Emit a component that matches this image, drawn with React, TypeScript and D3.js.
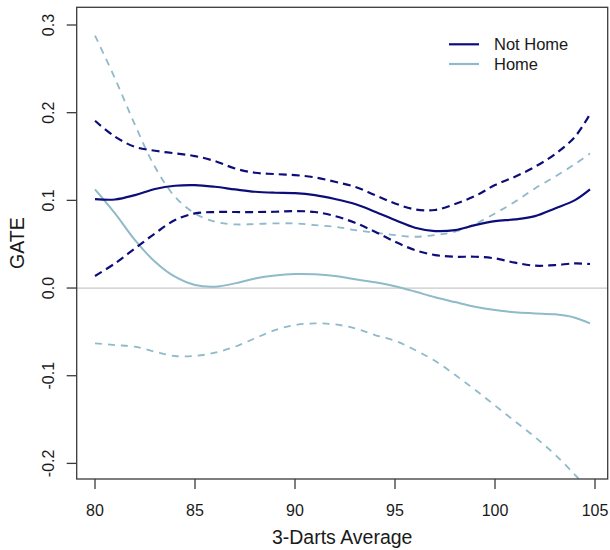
import * as d3 from 'd3';

// x grid of the smoothed GATE curves (3-darts average)
const avg = [80, 81, 82, 83, 84, 85, 86, 87, 88, 89, 90, 91, 92, 93, 94, 95, 96, 97, 98, 99, 100, 101, 102, 103, 104, 104.75];

const notHome = [0.1015, 0.101, 0.106, 0.113, 0.1167, 0.1174, 0.1155, 0.1125, 0.1098, 0.1087, 0.1083, 0.106, 0.1015, 0.0958, 0.087, 0.0775, 0.0688, 0.065, 0.0661, 0.0718, 0.0764, 0.0783, 0.082, 0.0908, 0.1003, 0.1125];
const notHomeUpper = [0.1908, 0.1726, 0.161, 0.1566, 0.1536, 0.1505, 0.1448, 0.1364, 0.1315, 0.13, 0.1288, 0.1262, 0.1212, 0.1155, 0.106, 0.0965, 0.0897, 0.089, 0.0958, 0.1049, 0.1174, 0.127, 0.1383, 0.1528, 0.1726, 0.1984];
const notHomeLower = [0.0137, 0.0281, 0.0452, 0.0623, 0.0775, 0.0851, 0.0867, 0.0867, 0.0867, 0.087, 0.0878, 0.0867, 0.0821, 0.0745, 0.0642, 0.0528, 0.0433, 0.0376, 0.0357, 0.0357, 0.0338, 0.0289, 0.0255, 0.0262, 0.0281, 0.0274];

const home = [0.1125, 0.0851, 0.0547, 0.03, 0.0129, 0.0034, 0.0015, 0.0053, 0.011, 0.0144, 0.016, 0.0156, 0.0137, 0.010, 0.0065, 0.002, -0.004, -0.0105, -0.016, -0.0213, -0.0251, -0.0277, -0.0289, -0.03, -0.0338, -0.0403];
const homeUpper = [0.288, 0.239, 0.186, 0.138, 0.104, 0.0851, 0.0756, 0.0726, 0.073, 0.0737, 0.0737, 0.0718, 0.0699, 0.0661, 0.0631, 0.0604, 0.0585, 0.0604, 0.0642, 0.073, 0.0851, 0.0984, 0.1136, 0.127, 0.1414, 0.1536];
const homeLower = [-0.063, -0.065, -0.0669, -0.0726, -0.0775, -0.0775, -0.0737, -0.0669, -0.0574, -0.0479, -0.0422, -0.0403, -0.0414, -0.046, -0.0536, -0.0601, -0.0707, -0.083, -0.099, -0.116, -0.134, -0.152, -0.17, -0.19, -0.213, -0.232];

const xTicks = [80, 85, 90, 95, 100, 105];
const yTicks = [-0.2, -0.1, 0.0, 0.1, 0.2, 0.3];
const legendLabels = ['Not Home', 'Home'];

const NAVY = '#0d0d7a';
const LIGHT = '#8fbac9';
const FONT = '"Liberation Sans", Arial, Helvetica, sans-serif';

const box = { left: 76.7, right: 607.7, top: 7.3, bottom: 479 };

export default function App() {
  const x = d3.scaleLinear().domain([79.085, 105.635]).range([box.left, box.right]);
  const y = d3.scaleLinear().domain([-0.2178, 0.3202]).range([box.bottom, box.top]);

  const line = (vals: number[]) =>
    d3.line<number>()
      .x((_, i) => x(avg[i]))
      .y(d => y(d))
      .curve(d3.curveCatmullRom.alpha(0.5))(vals) || '';

  const series = [
    { vals: homeUpper, color: LIGHT, w: 1.8, dash: '7,6' },
    { vals: homeLower, color: LIGHT, w: 1.8, dash: '7,6' },
    { vals: home, color: LIGHT, w: 2, dash: undefined },
    { vals: notHomeUpper, color: NAVY, w: 2.2, dash: '8,5' },
    { vals: notHomeLower, color: NAVY, w: 2.2, dash: '8,5' },
    { vals: notHome, color: NAVY, w: 2.2, dash: undefined },
  ];

  return (
    <svg width={610} height={550} style={{ position: 'absolute', left: 0, top: 0, background: '#fff' }} fontFamily={FONT}>
      <defs>
        <clipPath id="plotClip">
          <rect x={box.left} y={box.top} width={box.right - box.left} height={box.bottom - box.top} />
        </clipPath>
      </defs>

      {/* zero reference line */}
      <line x1={box.left} x2={box.right} y1={y(0)} y2={y(0)} stroke="#c8c8c8" strokeWidth={1.2} />

      <g clipPath="url(#plotClip)">
        {series.map((s, i) => (
          <path key={i} d={line(s.vals)} fill="none" stroke={s.color} strokeWidth={s.w} strokeDasharray={s.dash} />
        ))}
      </g>

      {/* box */}
      <rect x={box.left} y={box.top} width={box.right - box.left} height={box.bottom - box.top} fill="none" stroke="#3a3a3a" strokeWidth={1.3} />

      {/* x axis */}
      {xTicks.map(t => (
        <g key={t}>
          <line x1={x(t)} x2={x(t)} y1={box.bottom} y2={box.bottom + 10} stroke="#3a3a3a" strokeWidth={1.3} />
          <text x={x(t)} y={515.5} textAnchor="middle" fontSize={16} fill="#1a1a1a">{t}</text>
        </g>
      ))}
      <text x={(box.left + box.right) / 2} y={544} textAnchor="middle" fontSize={19.5} fill="#1a1a1a">3-Darts Average</text>

      {/* y axis */}
      {yTicks.map(t => (
        <g key={t}>
          <line x1={box.left - 10} x2={box.left} y1={y(t)} y2={y(t)} stroke="#3a3a3a" strokeWidth={1.3} />
          <text transform={`translate(53.5,${y(t)}) rotate(-90)`} textAnchor="middle" fontSize={16} fill="#1a1a1a">{t.toFixed(1)}</text>
        </g>
      ))}
      <text transform={`translate(24,${(box.top + box.bottom) / 2}) rotate(-90)`} textAnchor="middle" fontSize={19.5} fill="#1a1a1a">GATE</text>

      {/* legend */}
      {legendLabels.map((lab, i) => (
        <g key={lab} transform={`translate(0,${44.3 + i * 19.7})`}>
          <line x1={449} x2={479} y1={0} y2={0} stroke={i === 0 ? NAVY : LIGHT} strokeWidth={2.2} />
          <text x={494} y={5.8} fontSize={16.5} fill="#1a1a1a">{lab}</text>
        </g>
      ))}
    </svg>
  );
}
